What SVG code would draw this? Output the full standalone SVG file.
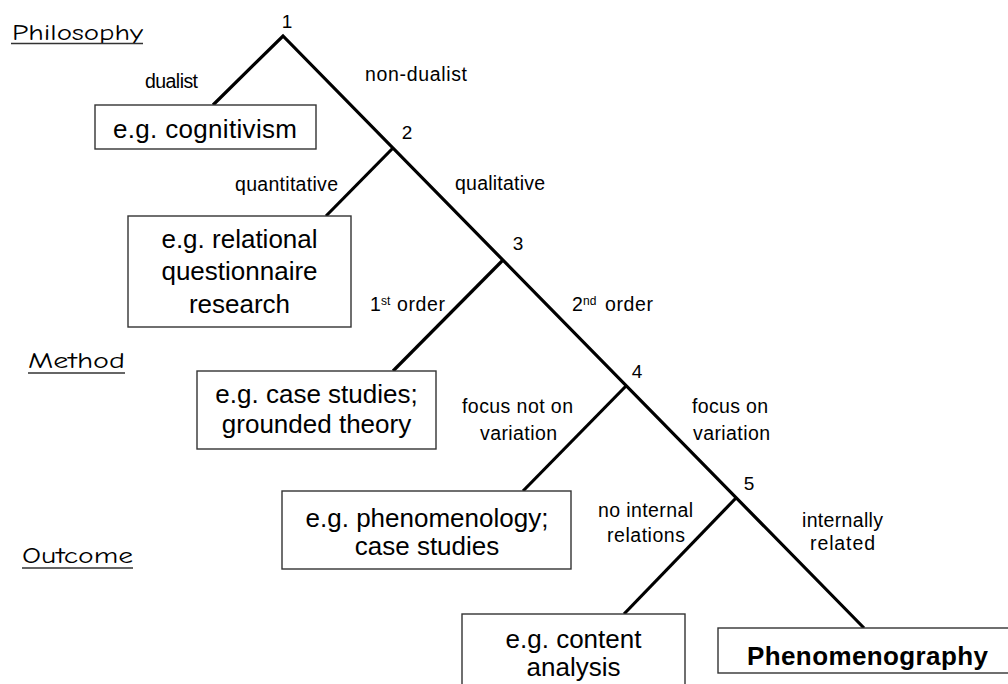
<svg xmlns="http://www.w3.org/2000/svg" width="1008" height="684" viewBox="0 0 1008 684">
<style>
.bg{fill:#fff}
.edge{stroke:#000;stroke-width:3.2;fill:none;stroke-linejoin:miter;stroke-linecap:butt}
.box{fill:#fff;stroke:#333;stroke-width:1.4}
.lbl{font-family:"Liberation Sans",Arial,sans-serif;font-size:19.5px;fill:#000}
.num{font-family:"Liberation Sans",Arial,sans-serif;font-size:19px;fill:#000;text-anchor:middle}
.sup{font-size:12px}
.bt{font-family:"Liberation Sans",Arial,sans-serif;font-size:26px;fill:#000}
.mid{text-anchor:middle}
.bold{font-weight:bold}
.head{font-family:"Comic Sans MS","Comic Neue","DejaVu Sans",sans-serif;font-size:23px;fill:#000}
.ul{stroke:#333;stroke-width:1.5}
</style>
<rect class="bg" x="0" y="0" width="1008" height="684"/>

<g id="headings">
  <text class="head" x="12" y="40" textLength="131" lengthAdjust="spacingAndGlyphs">Philosophy</text>
  <line class="ul" x1="11" y1="43.5" x2="143" y2="43.5"/>
  <text class="head" x="28" y="368" textLength="97" lengthAdjust="spacingAndGlyphs">Method</text>
  <line class="ul" x1="28" y1="373" x2="125" y2="373"/>
  <text class="head" x="22" y="563" textLength="111" lengthAdjust="spacingAndGlyphs">Outcome</text>
  <line class="ul" x1="22" y1="568" x2="133" y2="568"/>
</g>

<g id="connectors">
  <polyline class="edge" points="213,105 283,36 864,628"/>
  <line class="edge" x1="393" y1="148" x2="326" y2="216"/>
  <line class="edge" x1="503" y1="260" x2="393" y2="371"/>
  <line class="edge" x1="626" y1="386" x2="523" y2="491"/>
  <line class="edge" x1="736" y1="498" x2="624" y2="614"/>
</g>

<g id="edge-labels">
  <text class="num" x="287" y="28">1</text>
  <text class="lbl" x="145" y="88" textLength="53">dualist</text>
  <text class="lbl" x="365" y="81" textLength="102">non-dualist</text>
  <text class="num" x="407" y="139">2</text>
  <text class="lbl" x="235" y="191" textLength="103">quantitative</text>
  <text class="lbl" x="455" y="190" textLength="90">qualitative</text>
  <text class="num" x="518" y="250">3</text>
  <text class="lbl" y="311"><tspan x="370">1</tspan><tspan class="sup" x="381" dy="-6">st</tspan><tspan x="397" dy="6" textLength="48">order</tspan></text>
  <text class="lbl" y="311"><tspan x="572">2</tspan><tspan class="sup" x="583" dy="-6">nd</tspan><tspan x="605" dy="6" textLength="48">order</tspan></text>
  <text class="num" x="637" y="378">4</text>
  <text class="lbl"><tspan x="462" y="413" textLength="111">focus not on</tspan><tspan x="480" y="440" textLength="77">variation</tspan></text>
  <text class="lbl"><tspan x="692" y="413" textLength="76">focus on</tspan><tspan x="693" y="440" textLength="77">variation</tspan></text>
  <text class="num" x="749" y="490">5</text>
  <text class="lbl"><tspan x="598" y="517" textLength="95">no internal</tspan><tspan x="607" y="542" textLength="78">relations</tspan></text>
  <text class="lbl"><tspan x="802" y="527" textLength="81">internally</tspan><tspan x="810" y="550" textLength="65">related</tspan></text>
</g>

<g id="node-cognitivism">
  <rect class="box" x="95" y="105" width="221" height="44"/>
  <text class="bt" x="113" y="138" textLength="184">e.g. cognitivism</text>
</g>
<g id="node-relational">
  <rect class="box" x="128" y="216" width="223" height="111"/>
  <text class="bt mid"><tspan x="239.5" y="248">e.g. relational</tspan><tspan x="239.5" y="280">questionnaire</tspan><tspan x="239.5" y="313">research</tspan></text>
</g>
<g id="node-casestudies">
  <rect class="box" x="197" y="371" width="239" height="78"/>
  <text class="bt mid"><tspan x="316.5" y="403">e.g. case studies;</tspan><tspan x="316.5" y="433">grounded theory</tspan></text>
</g>
<g id="node-phenomenology">
  <rect class="box" x="282" y="491" width="289" height="78"/>
  <text class="bt mid"><tspan x="427" y="527">e.g. phenomenology;</tspan><tspan x="427" y="555">case studies</tspan></text>
</g>
<g id="node-content">
  <rect class="box" x="462" y="614" width="223" height="80"/>
  <text class="bt mid"><tspan x="573.5" y="648">e.g. content</tspan><tspan x="573.5" y="676">analysis</tspan></text>
</g>
<g id="node-phenomenography">
  <rect class="box" x="718" y="628" width="295" height="45"/>
  <text class="bt bold" x="747" y="665" textLength="241">Phenomenography</text>
</g>
</svg>
